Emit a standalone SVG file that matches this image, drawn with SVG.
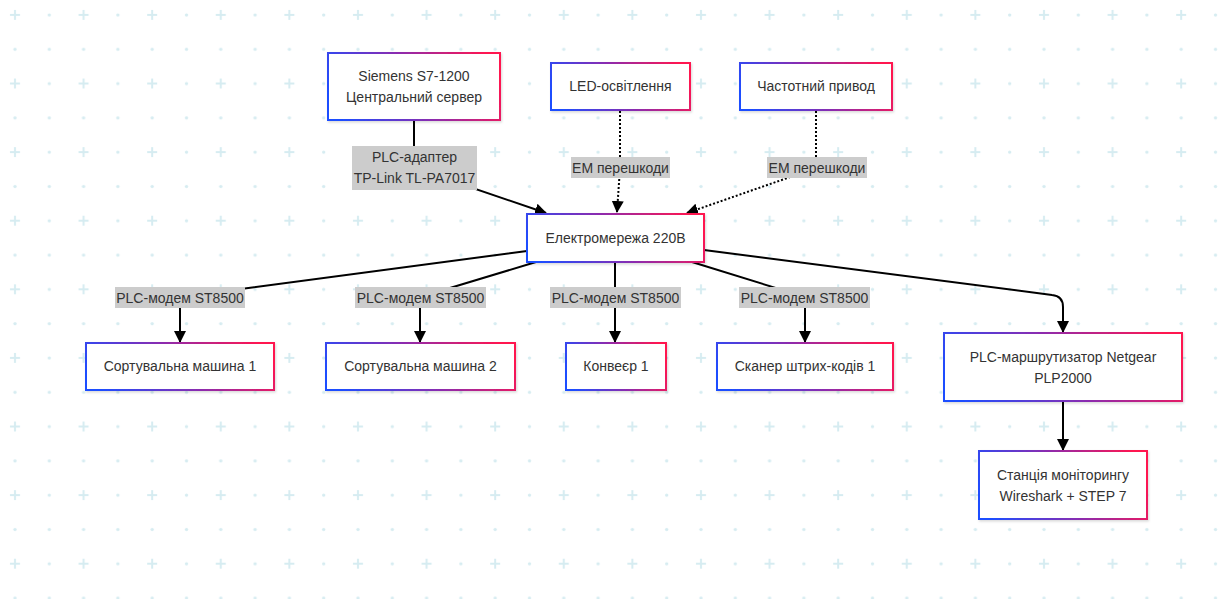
<svg xmlns="http://www.w3.org/2000/svg" width="1221" height="599" viewBox="0 0 1221 599">
<style>
.node rect{fill:#fff;stroke:url(#g);stroke-width:2;filter:url(#sh)}
.node text,.lbl text{font-family:"Liberation Sans",Arial,sans-serif;font-size:14px;fill:#333;text-anchor:middle}
.lbl rect{fill:#cccccc}
.e{fill:none;stroke:#000;stroke-width:2}
.d{fill:none;stroke:#000;stroke-width:2;stroke-dasharray:2 2}
</style>
<defs>
<linearGradient id="g" x1="0" y1="0.6" x2="1" y2="0.4">
<stop offset="0" stop-color="#1e4dff"/>
<stop offset="0.5" stop-color="#8a2cb0"/>
<stop offset="1" stop-color="#ff1650"/>
</linearGradient>
<filter id="sh" x="-10%" y="-20%" width="120%" height="140%">
<feDropShadow dx="1" dy="1.5" stdDeviation="1" flood-color="#000" flood-opacity="0.15"/>
</filter>
<pattern id="bg" patternUnits="userSpaceOnUse" x="0" y="0" width="68.6" height="68.6">
<path d="M10,15 H20 M15,10 V20" stroke="#d6ecf1" stroke-width="2"/>
<circle cx="49.3" cy="15" r="1.7" fill="#d6ecf1"/>
<circle cx="15" cy="49.3" r="1.7" fill="#d6ecf1"/>
<circle cx="49.3" cy="49.3" r="1.7" fill="#d6ecf1"/>
</pattern>
<marker id="ah" viewBox="0 0 12 12" refX="11" refY="6" markerWidth="12" markerHeight="12" markerUnits="userSpaceOnUse" orient="auto">
<path d="M0,0 L12,6 L0,12 z" fill="#000"/>
</marker>
</defs>
<rect width="1221" height="599" fill="#fff"/>
<rect width="1221" height="599" fill="url(#bg)"/>

<g id="edges">
<path class="e" d="M414,121 L414,168 L546,213" marker-end="url(#ah)"/>
<path class="d" d="M620,111 L620,168 L617,212" marker-end="url(#ah)"/>
<path class="d" d="M816,111 L816,168 L687,213" marker-end="url(#ah)"/>
<path class="e" d="M527,251 L180,297 L180,342" marker-end="url(#ah)"/>
<path class="e" d="M536,262 L420,297 L420,342" marker-end="url(#ah)"/>
<path class="e" d="M615,263 L615,342" marker-end="url(#ah)"/>
<path class="e" d="M692,262 L805,297 L805,342" marker-end="url(#ah)"/>
<path class="e" d="M704,250 L1052,295 Q1063,296 1063,307 L1063,332" marker-end="url(#ah)"/>
<path class="e" d="M1063,402 L1063,450" marker-end="url(#ah)"/>
<g class="lbl">
<rect x="352" y="146" width="125" height="44"/>
<text x="414.5" y="162">PLC-адаптер</text>
<text x="414.5" y="183">TP-Link TL-PA7017</text>
<rect x="571" y="157" width="99" height="21"/>
<text x="620.5" y="172.5">ЕМ перешкоди</text>
<rect x="767" y="157" width="100" height="21"/>
<text x="817" y="172.5">ЕМ перешкоди</text>
<rect x="115" y="287" width="130" height="21"/>
<text x="180" y="302.5">PLC-модем ST8500</text>
<rect x="355" y="287" width="131" height="21"/>
<text x="420.5" y="302.5">PLC-модем ST8500</text>
<rect x="550" y="287" width="131" height="21"/>
<text x="615.5" y="302.5">PLC-модем ST8500</text>
<rect x="739" y="287" width="131" height="21"/>
<text x="804.5" y="302.5">PLC-модем ST8500</text>
</g>
</g>

<g id="n-siemens" class="node"><rect x="328" y="53" width="172" height="67"/><text x="414" y="81">Siemens S7-1200</text><text x="414" y="102">Центральний сервер</text></g>
<g id="n-led" class="node"><rect x="551" y="63" width="139" height="47"/><text x="620.5" y="91">LED-освітлення</text></g>
<g id="n-drive" class="node"><rect x="740" y="63" width="152" height="47"/><text x="816" y="91">Частотний привод</text></g>
<g id="n-grid" class="node"><rect x="527" y="214" width="177" height="48"/><text x="615.5" y="243">Електромережа 220В</text></g>
<g id="n-sort1" class="node"><rect x="86" y="343" width="188" height="47"/><text x="180" y="371">Сортувальна машина 1</text></g>
<g id="n-sort2" class="node"><rect x="326" y="343" width="189" height="47"/><text x="420.5" y="371">Сортувальна машина 2</text></g>
<g id="n-conv" class="node"><rect x="566" y="343" width="100" height="47"/><text x="616" y="371">Конвеєр 1</text></g>
<g id="n-scan" class="node"><rect x="717" y="343" width="176" height="47"/><text x="805" y="371">Сканер штрих-кодів 1</text></g>
<g id="n-router" class="node"><rect x="944" y="333" width="238" height="68"/><text x="1063" y="362">PLC-маршрутизатор Netgear</text><text x="1063" y="383">PLP2000</text></g>
<g id="n-station" class="node"><rect x="979" y="451" width="168" height="68"/><text x="1063" y="480">Станція моніторингу</text><text x="1063" y="501">Wireshark + STEP 7</text></g>
</svg>
